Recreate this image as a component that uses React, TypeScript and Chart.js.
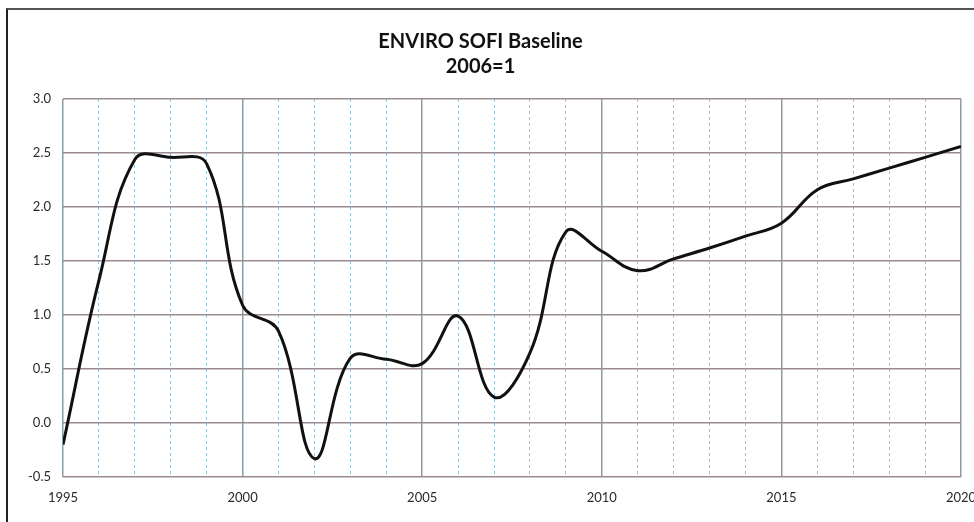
import React, { useEffect, useRef } from "react";
import { Chart, registerables } from "chart.js";

Chart.register(...registerables);

const years: number[] = [
  1995, 1996, 1997, 1998, 1999, 2000, 2001, 2002, 2003, 2004, 2005, 2006, 2007,
  2008, 2009, 2010, 2011, 2012, 2013, 2014, 2015, 2016, 2017, 2018, 2019, 2020,
];
const sofiValues: number[] = [
  -0.2, 1.32, 2.44, 2.46, 2.4, 1.09, 0.85, -0.33, 0.6, 0.59, 0.55, 0.99, 0.24,
  0.65, 1.77, 1.59, 1.41, 1.52, 1.62, 1.73, 1.85, 2.16, 2.26, 2.36, 2.46, 2.56,
];
const titleLines: string[] = ["ENVIRO SOFI Baseline", "2006=1"];
const yMin = -0.5;
const yMax = 3.0;
const yStep = 0.5;

const FONT = "Lato, 'Open Sans', sans-serif";

export default function App() {
  const ref = useRef<HTMLCanvasElement | null>(null);

  useEffect(() => {
    if (!ref.current) return;
    const chart = new Chart(ref.current, {
      type: "line",
      data: {
        datasets: [
          {
            label: "SOFI",
            data: years.map((y, i) => ({ x: y, y: sofiValues[i] })),
            borderColor: "#111111",
            borderWidth: 3,
            pointRadius: 0,
            tension: 0.4,
            fill: false,
            xAxisID: "x",
            yAxisID: "y",
          },
        ],
      },
      options: {
        animation: false,
        responsive: false,
        maintainAspectRatio: false,
        layout: { padding: { top: 11, left: 0, right: 13, bottom: 0 } },
        plugins: {
          legend: { display: false },
          tooltip: { enabled: false },
          title: {
            display: true,
            text: titleLines,
            color: "#111111",
            font: { family: FONT, size: 20, weight: "bold", lineHeight: 1.25 },
            padding: { top: 18.5, bottom: 19.5 },
          },
        },
        scales: {
          x2: {
            type: "linear",
            position: "bottom",
            min: 1995,
            max: 2020,
            ticks: { display: false, stepSize: 1 },
            grid: {
              drawTicks: false,
              color: (ctx: any) =>
                ctx.tick && ctx.tick.value % 5 === 0 ? "rgba(0,0,0,0)" : "#9cc3da",
              lineWidth: 1,
            },
            border: { display: false, dash: [3, 3] },
            afterFit: (s: any) => {
              s.height = 0;
              s.paddingLeft = 0;
              s.paddingRight = 0;
            },
          },
          x: {
            type: "linear",
            position: "bottom",
            min: 1995,
            max: 2020,
            ticks: {
              stepSize: 5,
              padding: 13,
              color: "#2a2a2a",
              font: { family: FONT, size: 13 },
              callback: (v: any) => String(v),
            },
            grid: { drawTicks: false, color: "#8d9ba5", lineWidth: 1.5 },
            border: { display: false },
            afterFit: (s: any) => {
              s.height = 45;
              s.paddingLeft = 0;
              s.paddingRight = 0;
            },
          },
          y: {
            type: "linear",
            min: yMin,
            max: yMax,
            ticks: {
              stepSize: yStep,
              padding: 12,
              color: "#2a2a2a",
              font: { family: FONT, size: 13 },
              callback: (v: any) => Number(v).toFixed(1),
            },
            grid: { drawTicks: false, color: "#9a8b90", lineWidth: 1.5 },
            border: { display: false },
            afterFit: (s: any) => {
              s.width = 63;
              s.paddingTop = 0;
              s.paddingBottom = 0;
            },
          },
        },
      },
    });
    return () => chart.destroy();
  }, []);

  return (
    <div
      style={{
        position: "fixed",
        left: 0,
        top: 0,
        width: 974,
        height: 522,
        background: "#ffffff",
        overflow: "hidden",
      }}
    >
      <div
        style={{
          position: "absolute",
          left: 6,
          top: 8,
          width: 1000,
          height: 600,
          borderTop: "2px solid #555555",
          borderLeft: "2px solid #222222",
        }}
      />
      <canvas
        ref={ref}
        width={974}
        height={522}
        style={{ position: "absolute", left: 0, top: 0, width: 974, height: 522 }}
      />
    </div>
  );
}
